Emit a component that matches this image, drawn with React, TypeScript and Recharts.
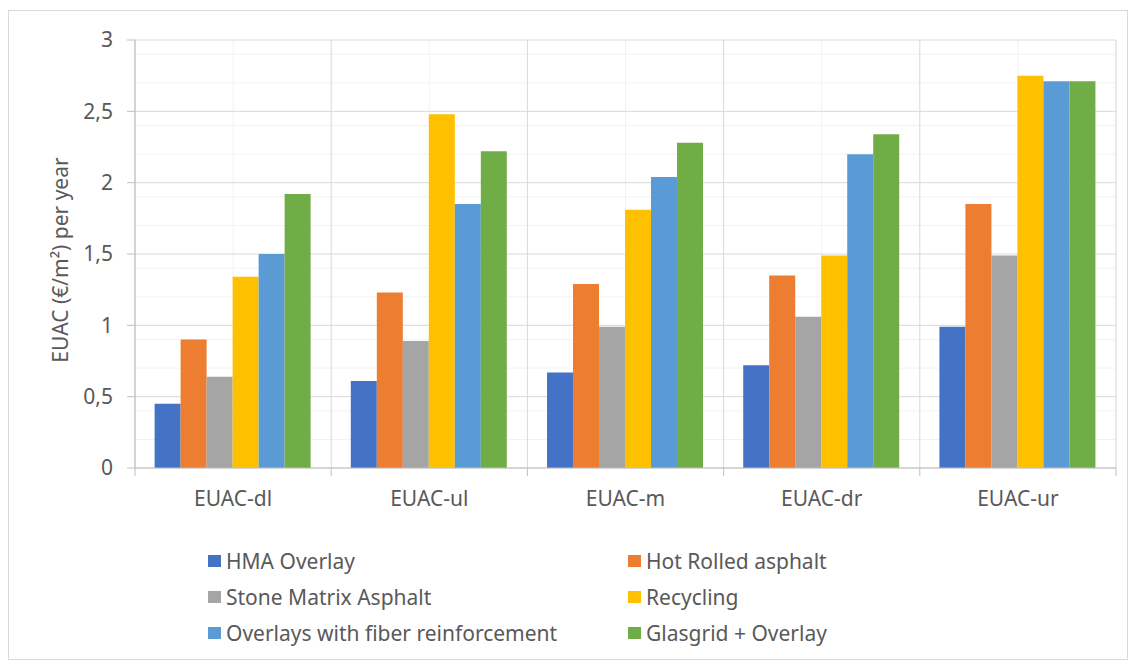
import { BarChart, Bar, XAxis, YAxis, CartesianGrid } from 'recharts';

const categories = ['EUAC-dl', 'EUAC-ul', 'EUAC-m', 'EUAC-dr', 'EUAC-ur'];

const seriesNames = [
  'HMA Overlay',
  'Hot Rolled asphalt',
  'Stone Matrix Asphalt',
  'Recycling',
  'Overlays with fiber reinforcement',
  'Glasgrid + Overlay',
];

const hmaOverlay = [0.45, 0.61, 0.67, 0.72, 0.99];
const hotRolled = [0.9, 1.23, 1.29, 1.35, 1.85];
const stoneMatrix = [0.64, 0.89, 0.99, 1.06, 1.49];
const recycling = [1.34, 2.48, 1.81, 1.49, 2.75];
const fiberOverlay = [1.5, 1.85, 2.04, 2.2, 2.71];
const glasgrid = [1.92, 2.22, 2.28, 2.34, 2.71];

const seriesValues = [hmaOverlay, hotRolled, stoneMatrix, recycling, fiberOverlay, glasgrid];
const seriesColors = ['#4472C4', '#ED7D31', '#A5A5A5', '#FFC000', '#5B9BD5', '#70AD47'];

const yTicks = [0, 0.5, 1, 1.5, 2, 2.5, 3];
const minorTicks = [
  0.1, 0.2, 0.3, 0.4, 0.6, 0.7, 0.8, 0.9, 1.1, 1.2, 1.3, 1.4, 1.6, 1.7, 1.8, 1.9,
  2.1, 2.2, 2.3, 2.4, 2.6, 2.7, 2.8, 2.9,
];

const FONT = '"Noto Sans", sans-serif';
const TEXT = '#595959';
const FONT_SIZE = 21;

const chartData = categories.map((cat, ci) => {
  const row: Record<string, string | number> = { category: cat };
  seriesNames.forEach((name, si) => {
    row[name] = seriesValues[si][ci];
  });
  return row;
});

// Excel-style tick: label at centre, tick mark at the category boundary
function CategoryTick(props: any) {
  const { x, y, payload, index, plotWidth } = props;
  const band = plotWidth / categories.length;
  const left = x - band / 2;
  return (
    <g>
      <line x1={left} y1={y - 8} x2={left} y2={y} stroke="#bfbfbf" />
      {index === categories.length - 1 && (
        <line x1={left + band} y1={y - 8} x2={left + band} y2={y} stroke="#bfbfbf" />
      )}
      <text x={x} y={y + 30} textAnchor="middle" fill={TEXT} fontSize={FONT_SIZE} fontFamily={FONT}>
        {payload.value}
      </text>
    </g>
  );
}

function AxisTitle(props: any) {
  const { viewBox } = props;
  const cx = viewBox.x + 15;
  const cy = viewBox.y + viewBox.height / 2 + 6;
  return (
    <text
      x={cx}
      y={cy}
      transform={`rotate(-90, ${cx}, ${cy})`}
      textAnchor="middle"
      dominantBaseline="central"
      fill={TEXT}
      fontSize={FONT_SIZE}
      fontFamily={FONT}
    >
      EUAC (€/m²) per year
    </text>
  );
}

export default function App() {
  const chartWidth = 1118;
  const margin = { top: 29, right: 11, bottom: 13, left: 36 };
  const yAxisWidth = 90;
  const plotWidth = chartWidth - margin.left - margin.right - yAxisWidth;

  return (
    <div
      style={{
        position: 'relative',
        width: 1120,
        height: 650,
        marginTop: 2,
        border: '1px solid #d9d9d9',
        boxSizing: 'border-box',
        background: '#fff',
        fontFamily: FONT,
      }}
    >
      <BarChart
        width={chartWidth}
        height={510}
        data={chartData}
        margin={margin}
        barCategoryGap="10%"
        barGap={0}
      >
        <CartesianGrid stroke="#f2f2f2" horizontalValues={minorTicks} vertical={true} />
        <CartesianGrid
          stroke="#d9d9d9"
          horizontalValues={yTicks}
          verticalCoordinatesGenerator={({ offset }: any) =>
            categories
              .map((_, i) => offset.left + (i * offset.width) / categories.length)
              .concat([offset.left + offset.width])
          }
        />
        <XAxis
          dataKey="category"
          stroke="#bfbfbf"
          tickLine={false}
          height={40}
          interval={0}
          tick={<CategoryTick plotWidth={plotWidth} />}
        />
        <YAxis
          domain={[0, 3]}
          ticks={yTicks}
          width={yAxisWidth}
          stroke="#bfbfbf"
          tickSize={8}
          tickMargin={14}
          tickFormatter={(v: number) => String(v).replace('.', ',')}
          tick={{ fill: TEXT, fontSize: FONT_SIZE, fontFamily: FONT }}
          label={<AxisTitle />}
        />
        {seriesNames.map((name, si) => (
          <Bar
            key={name}
            dataKey={name}
            fill={seriesColors[si]}
            isAnimationActive={false}
          />
        ))}
      </BarChart>
      <div
        style={{
          position: 'absolute',
          left: 199,
          top: 534,
          display: 'grid',
          gridTemplateColumns: '420px 300px',
          rowGap: 5,
          color: TEXT,
          fontSize: FONT_SIZE,
        }}
      >
        {seriesNames.map((name, si) => (
          <div key={name} style={{ display: 'flex', alignItems: 'center', height: 31 }}>
            <span
              style={{
                width: 13,
                height: 12,
                background: seriesColors[si],
                marginRight: 5,
                display: 'inline-block',
              }}
            />
            {name}
          </div>
        ))}
      </div>
    </div>
  );
}
